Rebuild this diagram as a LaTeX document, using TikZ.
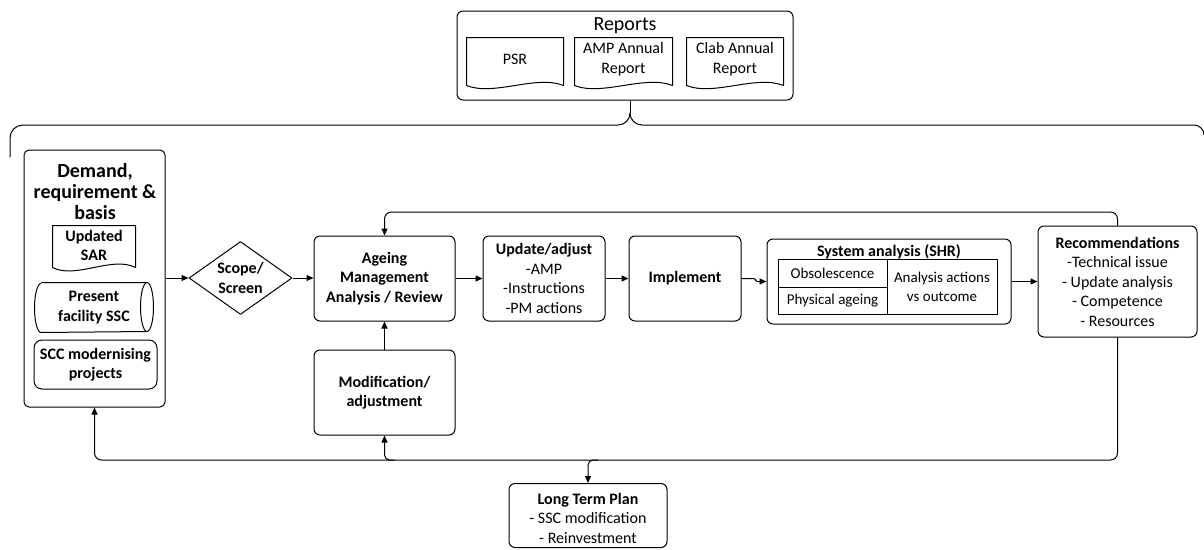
\documentclass[tikz,border=0pt]{standalone}
\usepackage{fontspec}
\setmainfont{Carlito}
\usetikzlibrary{arrows.meta,shapes.geometric,calc}

\tikzset{
  box/.style={draw, rounded corners=6, align=center, inner sep=0pt},
  plain/.style={align=center, inner sep=0pt},
  arr/.style={-{Triangle[length=7pt,width=6pt]}},
  f16/.style={font=\fontsize{16}{19.5}\selectfont},
  f16b/.style={font=\fontsize{16}{19.5}\selectfont\bfseries},
  f15/.style={font=\fontsize{15}{19}\selectfont},
}

% wavy-bottom document outline around a node; #2 = drop of the sides, #3 = wave amplitude
\newcommand\drawdoc[3]{%
  \draw ($(#1.south west)+(0,#2)$) -- (#1.north west) -- (#1.north east) -- ($(#1.south east)+(0,#2)$)
    .. controls ($(#1.south east)!0.28!(#1.south west)+(0,#2-#3)$) and ($(#1.south east)!0.72!(#1.south west)+(0,#2+#3)$)
    .. ($(#1.south west)+(0,#2)$);}

\begin{document}
\begin{tikzpicture}[x=1pt,y=-1pt,line width=1pt,line join=round]
\useasboundingbox (0,0) rectangle (1204,549);

% ---------- reports ----------
\node[box, minimum width=336, minimum height=89] (reports) at (625,55.5) {};
\node[plain, font=\fontsize{20}{24}\selectfont] (reptitle) at (625,26) {Reports};
\node[plain, f16, minimum width=96, minimum height=42] (psr) at (515,59) {PSR};
\node[plain, f16, minimum width=97, minimum height=42] (ampr) at (623.5,59) {AMP Annual\\Report};
\node[plain, f16, minimum width=96, minimum height=42] (clab) at (735,59) {Clab Annual\\Report};
\drawdoc{psr}{5}{11}
\drawdoc{ampr}{5}{11}
\drawdoc{clab}{5}{11}

% brace below the reports
\coordinate (tip) at (630,113);
\draw (tip) -- (tip |- reports.south);
\draw (10,157) -- (10,138) to[out=90,in=180] (23,125) -- (618,125) to[out=0,in=-90] (tip)
      to[out=-90,in=180] (642,125) -- (1194,125) to[out=0,in=90] (1204,135);

% ---------- demand column ----------
\node[box, rounded corners=5, minimum width=141, minimum height=257] (demand) at (94.5,278.5) {};
\node[plain, font=\fontsize{20}{21}\selectfont\bfseries] (demtitle) at (95,192) {Demand,\\requirement \&\\basis};
\node[plain, f16b, minimum width=82, minimum height=39] (sar) at (94,245.5) {Updated\\SAR};
\drawdoc{sar}{2}{12}

\node[plain, f16b, minimum width=118, minimum height=49] (ssc) at (94,307.5) {Present\\facility SSC};
\draw ($(ssc.north west)+(6.5,0)$) -- ($(ssc.north east)+(-6.5,0)$)
      arc[start angle=90, end angle=-90, x radius=6.5pt, y radius=24.5pt]
      -- ($(ssc.south west)+(6.5,0)$)
      arc[start angle=270, end angle=90, x radius=6.5pt, y radius=24.5pt];
\draw ($(ssc.north east)+(-6.5,0)$) arc[start angle=90, end angle=270, x radius=6.5pt, y radius=24.5pt];

\node[box, rounded corners=8, f16b, minimum width=123, minimum height=49] (scc) at (95.5,364.5) {SCC modernising\\projects};

% ---------- main flow ----------
\node[diamond, draw, f16b, align=center, inner sep=0pt, aspect=1.41,
      minimum width=103, minimum height=73] (scope) at (240.5,278) {Scope/\\Screen};
\node[box, f16b, minimum width=141, minimum height=85] (ama) at (384.5,278.5) {Ageing\\Management\\Analysis / Review};
\node[box, f16, minimum width=122, minimum height=85] (upd) at (544,278.5) {\textbf{Update/adjust}\\-AMP\\-Instructions\\-PM actions};
\node[box, f16b, minimum width=112, minimum height=85] (impl) at (685,278.5) {Implement};
\node[box, f16b, minimum width=141, minimum height=85] (mod) at (384.5,392.5) {Modification/\\adjustment};

% system analysis with its table
\node[box, minimum width=244, minimum height=85] (shr) at (889,281.5) {};
\node[plain, f16b] (shrtitle) at (889,252) {System analysis (SHR)};
\node[draw, plain, f15, minimum width=109, minimum height=28] (obs) at (832.5,273) {Obsolescence};
\node[draw, plain, f15, minimum width=109, minimum height=27] (phys) at (832.5,300.5) {Physical ageing};
\node[draw, plain, f15, minimum width=110, minimum height=55] (anl) at (942,286.5) {Analysis actions\\vs outcome};

\node[box, f16, minimum width=159, minimum height=111] (rec) at (1117.5,281.5)
  {\textbf{Recommendations}\\-Technical issue\\- Update analysis\\- Competence\\- Resources};

% long term plan: frame and its text set separately
\node[box, minimum width=158, minimum height=64] (ltp) at (588,515.5) {};
\node[plain, f16] (ltptext) at (588,518) {\textbf{Long Term Plan}\\- SSC modification\\- Reinvestment};

% ---------- connectors ----------
\draw[arr] (demand.east |- scope.west) -- (scope.west);
\draw[arr] (scope.east) -- (ama.west |- scope.east);
\draw[arr] (ama.east) -- (upd.west);
\draw[arr] (upd.east) -- (impl.west);
\draw[arr, rounded corners=2] (impl.east) -- ++(14,0) |- (shr.west);
\draw[arr] (shr.east) -- (rec.west);
\draw[arr] (mod.north) -- (ama.south);

\coordinate (fb) at (0,212);
\draw[arr, rounded corners=7] (rec.north) |- (fb -| ama.north) -- (ama.north);

\coordinate (bus) at (0,460);
\draw[arr, rounded corners=7] (rec.south) |- (bus -| demand.south) -- (demand.south);
\coordinate (modj) at ($(bus -| mod.south)+(10,0)$);
\draw[arr, rounded corners=5] (modj) -| (mod.south);
\coordinate (ltpj) at ($(bus -| ltp.north)+(10,0)$);
\draw[arr, rounded corners=5] (ltpj) -| (ltp.north);

\end{tikzpicture}
\end{document}
